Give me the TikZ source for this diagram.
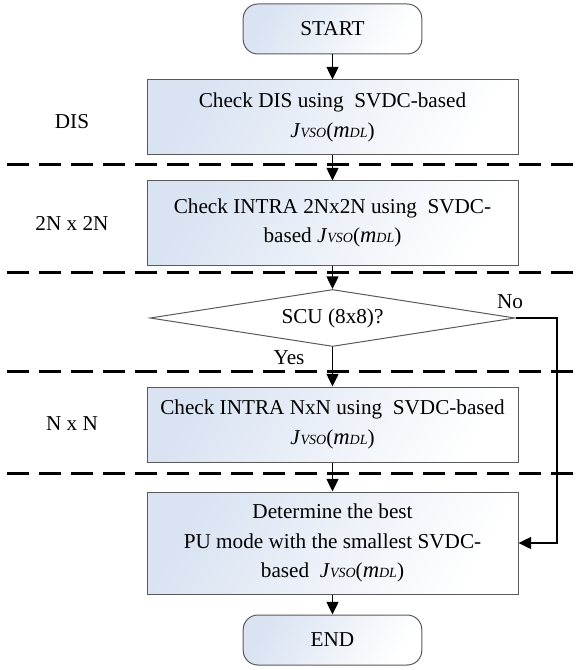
\documentclass[tikz,border=0pt]{standalone}
\usepackage{fontspec}
\setmainfont{Liberation Serif}
\usetikzlibrary{arrows.meta,shapes.geometric}

\definecolor{boxblue}{HTML}{D9E3F2}
\definecolor{edgegray}{HTML}{5A5A5A}

% cost term J_VSO(m_DL) as typeset in the boxes
\newcommand{\costJ}{\textit{J}{\fontsize{10.5}{10.5}\selectfont\textit{VSO}}(\textit{\fontsize{17}{17}\selectfont m}{\fontsize{10.5}{10.5}\selectfont\textit{DL}})}

\begin{document}
\begin{tikzpicture}[x=0.75pt,y=-0.75pt,
  font=\fontsize{15.9}{22}\selectfont,
  every node/.style={inner sep=0pt},
  shadedfill/.style={left color=boxblue, middle color=white, right color=white, shading angle=60},
  procbox/.style={draw=edgegray, line width=0.75pt, shadedfill,
    minimum width=278.25pt, align=center},
  termbox/.style={draw=edgegray, line width=0.75pt, shadedfill,
    rounded corners=11pt, minimum width=134pt, minimum height=37.5pt},
  decision/.style={draw=edgegray, line width=0.75pt, fill=white, shape=diamond,
    minimum width=273.75pt, minimum height=42.75pt, inner sep=0pt},
  lane/.style={line width=2.25pt, dash pattern=on 16.5pt off 7.5pt, line cap=butt},
  arr/.style={line width=1pt, -{Triangle[length=9.5pt,width=9pt]}},
  lanelabel/.style={anchor=center},
]
\useasboundingbox (0,0) rectangle (581,670);

% level separators
\draw[lane] (7,165) -- (581,165);
\draw[lane] (7,272) -- (581,272);
\draw[lane] (7,371) -- (581,371);
\draw[lane] (7,473) -- (581,473);

% level names
\node[lanelabel] (lDIS) at (72,122) {DIS};
\node[lanelabel] (l2N) at (72,223) {2N x 2N};
\node[lanelabel] (lN) at (72,424) {N x N};

% flow
\node[termbox] (start) at (332.5,29) {START};
\node[procbox, minimum height=56.25pt] (b1) at (332.5,117.5)
  {Check DIS using\ \ SVDC-based\\ \costJ};
\node[procbox, minimum height=63pt] (b2) at (332.5,223)
  {Check INTRA 2Nx2N using\ \ SVDC-\\ based \costJ};
\node[decision, label={[name=dectext]center:SCU (8x8)?}] (dec) at (332.5,318) {};
\node[procbox, minimum height=56.25pt] (b4) at (332.5,424.5)
  {Check INTRA NxN using\ \ SVDC-based\\ \costJ};
\node[procbox, minimum height=76.5pt] (b5) at (332.5,543)
  {Determine the best\\ PU mode with the smallest SVDC-\\ based\ \ \costJ};
\node[termbox] (end) at (332.5,640) {END};

\node (yes) at (289,358) {Yes};
\node (no) at (510,302) {No};
\coordinate (turn) at (557,318);

\draw[arr] (start) -- (b1);
\draw[arr] (b1) -- (b2);
\draw[arr] (b2) -- (dec);
\draw[arr] (dec) -- (b4);
\draw[arr] (b4) -- (b5);
\draw[arr] (b5) -- (end);
\draw[arr] (dec.east) -- (turn) |- (b5.east);
\end{tikzpicture}
\end{document}
